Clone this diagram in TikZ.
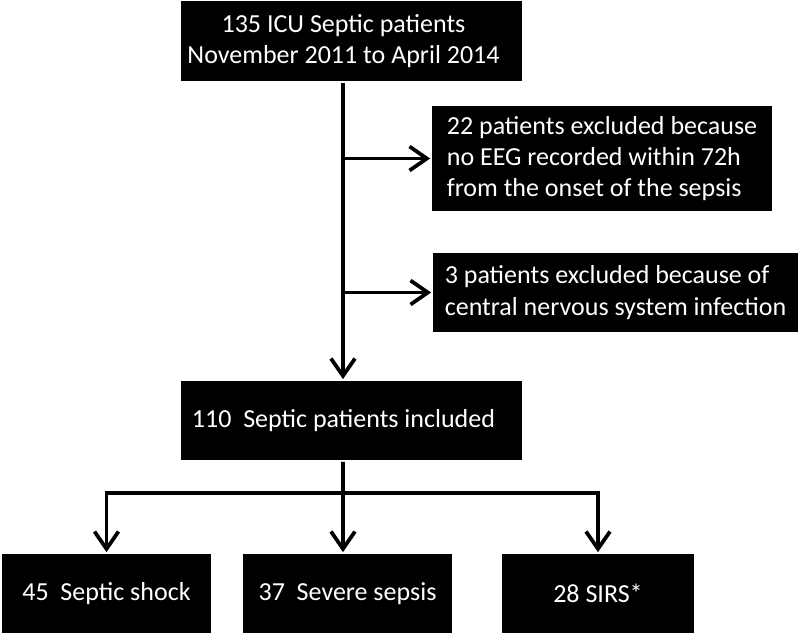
\documentclass[tikz,border=0pt]{standalone}
\usepackage{fontspec}
\setmainfont{Carlito}
\usepackage{tikz}
\usetikzlibrary{arrows.meta}
\usetikzlibrary{positioning}
\tikzstyle{box}=[fill=black,text=white,inner sep=0pt,font=\fontsize{19.5}{23.4}\selectfont]

\begin{document}
\begin{tikzpicture}[x=0.75pt,y=-0.75pt,line width=2.8pt]
\tikzstyle{arr}=[->,>={Straight Barb[length=13pt,width=18pt]}]
\useasboundingbox (0,0) rectangle (800,636);
  \node [box,align=center,minimum width=255.75pt,minimum height=60pt] (start) at (351.5,41)
    {135 ICU Septic patients\hspace*{12pt}\\November 2011 to April 2014\hspace*{12pt}};
  \node [box,align=left,minimum width=255pt,minimum height=78.75pt] (noeeg) at (602,158.5)
    {22 patients excluded because\\no EEG recorded within 72h\\from the onset of the sepsis};
  \node [box,align=left,minimum width=273.75pt,minimum height=59.25pt] (cns) at (615.5,292.5)
    {3 patients excluded because of\\central nervous system infection};
  \node [box,minimum width=255.75pt,minimum height=59.25pt] (incl) at (351.5,420.5)
    {110\ \ Septic patients included\hspace*{12pt}};
  % outcome groups
  \node [box,minimum width=156.75pt,minimum height=59.25pt] (shock) at (106.5,593.5) {45\ \ Septic shock};
  \node [box,minimum width=156.75pt,minimum height=59.25pt] (severe) at (347.5,593.5) {37\ \ Severe sepsis};
  \node [box,minimum width=144pt,minimum height=59.25pt] (sirs) at (598,593.5) {28 SIRS*};

  \coordinate (T) at ([xshift=-6.4pt]start.south);
  \coordinate (S) at (343,493);

  \draw[arr] (T) -- (T |- incl.north);
  \draw[arr] (T |- noeeg.west) -- (noeeg.west);
  \draw[arr] (T |- cns.west) -- (cns.west);
  \draw (T |- incl.south) -- (S);
  \draw[arr] (S) -| (shock.north);
  \draw[arr] (S) -- (T |- severe.north);
  \draw[arr] (S) -| (sirs.north);
\end{tikzpicture}
\end{document}
